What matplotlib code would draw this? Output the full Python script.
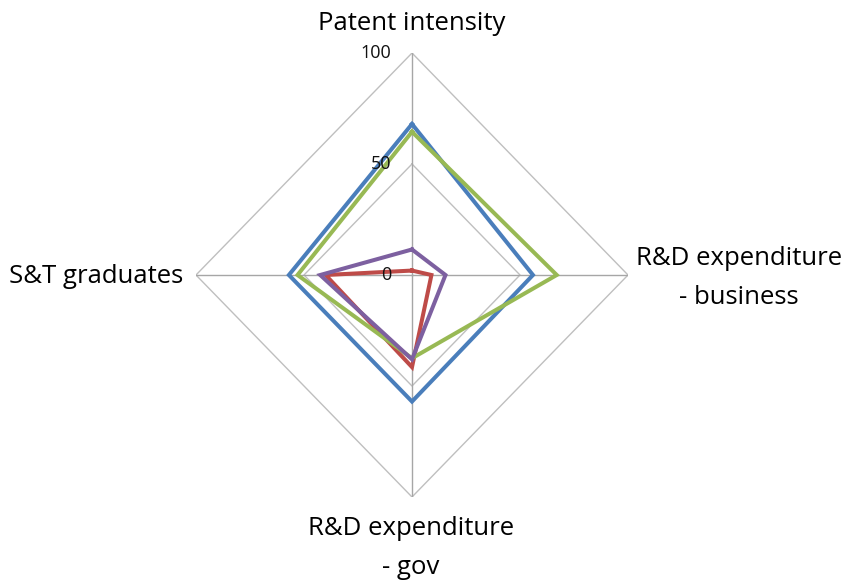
import numpy as np
import matplotlib
matplotlib.use("Agg")
import matplotlib.pyplot as plt

# indicator axes, clockwise from the top
axes_labels = ["Patent intensity", "R&D expenditure\n- business",
               "R&D expenditure\n- gov", "S&T graduates"]
r_ticks = [0, 50, 100]

blue = [68, 56, 57, 57]
red = [2, 9, 41.5, 40]
green = [64.5, 67, 37.5, 53]
purple = [11.5, 15.5, 38, 42.5]

series = [(blue, "#4A7EBB"), (red, "#BE4B48"), (green, "#98B954"), (purple, "#7D60A0")]

W, H = 846, 580
cx, cy, RX, RY = 412, 275, 216, 222

fig = plt.figure(figsize=(W / 100, H / 100), dpi=100)
ax = fig.add_axes([(cx - RX) / W, (H - cy - RY) / H, 2 * RX / W, 2 * RY / H], polar=True)
ax.set_aspect("auto")
ax.set_theta_offset(np.pi / 2)
ax.set_theta_direction(-1)
ax.set_ylim(0, 100)
ax.grid(False)
ax.spines["polar"].set_visible(False)
ax.set_xticks([])
ax.set_yticks([])
ax.patch.set_alpha(0)

theta = np.linspace(0, 2 * np.pi, len(axes_labels), endpoint=False)
closed = np.append(theta, theta[0])

# straight-sided grid rings and spokes
for t in r_ticks[1:]:
    ax.plot(closed, [t] * len(closed), color="#BFBFBF", lw=1, zorder=1)
for th in theta:
    ax.plot([th, th], [0, 100], color="#A6A6A6", lw=1, zorder=1)

for vals, col in series:
    ax.plot(closed, vals + vals[:1], color=col, lw=2.9, zorder=3,
            solid_joinstyle="miter")

font = "Open Sans"
for t in r_ticks:
    ax.annotate(str(t), xy=(0, t), xytext=(-21, 0), textcoords="offset pixels",
                ha="right", va="center", fontsize=13, family=font, color="#111111")

lbl = dict(fontsize=18.5, family=font, color="#000000", linespacing=1.7)
fig.text(cx / W, 1 - 24 / H, axes_labels[0], ha="center", va="center", **lbl)
fig.text(739 / W, 1 - 278 / H, axes_labels[1], ha="center", va="center", **lbl)
fig.text(411 / W, 1 - 548 / H, axes_labels[2], ha="center", va="center", **lbl)
fig.text(183 / W, 1 - 276 / H, axes_labels[3], ha="right", va="center", **lbl)

fig.savefig("out.png", dpi=100)
